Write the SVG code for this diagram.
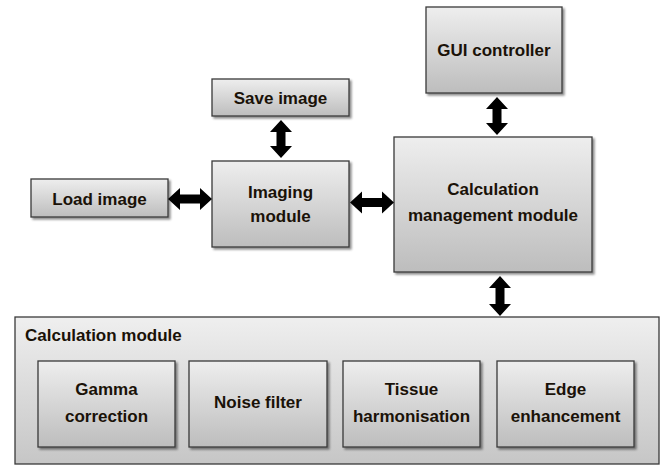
<svg xmlns="http://www.w3.org/2000/svg" width="661" height="466" viewBox="0 0 661 466">
<defs>
<linearGradient id="g" x1="0" y1="0" x2="0" y2="1">
<stop offset="0" stop-color="#eeeeee"/>
<stop offset="1" stop-color="#bdbdbd"/>
</linearGradient>
<linearGradient id="g2" x1="0" y1="0" x2="0" y2="1">
<stop offset="0" stop-color="#efefef"/>
<stop offset="1" stop-color="#c6c6c6"/>
</linearGradient>
<filter id="sh" x="-10%" y="-10%" width="130%" height="130%">
<feDropShadow dx="2" dy="2" stdDeviation="1.2" flood-color="#000" flood-opacity="0.45"/>
</filter>
</defs>
<style>
.box{fill:url(#g);stroke:#3a3a3a;stroke-width:1.3;filter:url(#sh)}
.outer{fill:url(#g2);stroke:#3a3a3a;stroke-width:1.3}
text{font-family:"Liberation Sans",Arial,sans-serif;font-weight:bold;font-size:17px;fill:#1a1208;text-anchor:middle}
.arr{fill:#000}
</style>
<rect width="661" height="466" fill="#fff"/>
<g id="calculation-module">
<rect class="outer" x="15" y="317" width="644" height="147"/>
<text x="25" y="341" style="text-anchor:start">Calculation module</text>
</g>
<g id="gamma-correction">
<rect class="box" x="38" y="361" width="137" height="86"/>
<text x="106.5" y="395">Gamma</text>
<text x="106.5" y="422">correction</text>
</g>
<g id="noise-filter">
<rect class="box" x="189" y="361" width="138" height="86"/>
<text x="258" y="408">Noise filter</text>
</g>
<g id="tissue-harmonisation">
<rect class="box" x="343" y="361" width="137" height="86"/>
<text x="411.5" y="395">Tissue</text>
<text x="411.5" y="422">harmonisation</text>
</g>
<g id="edge-enhancement">
<rect class="box" x="497" y="361" width="137" height="86"/>
<text x="565.5" y="395">Edge</text>
<text x="565.5" y="422">enhancement</text>
</g>
<g id="gui-controller">
<rect class="box" x="426" y="7" width="136" height="86"/>
<text x="494" y="56">GUI controller</text>
</g>
<g id="save-image">
<rect class="box" x="212" y="79" width="137" height="37"/>
<text x="280.5" y="104">Save image</text>
</g>
<g id="load-image">
<rect class="box" x="31" y="179" width="137" height="38"/>
<text x="99.5" y="205">Load image</text>
</g>
<g id="imaging-module">
<rect class="box" x="212" y="161" width="137" height="86"/>
<text x="280.5" y="198">Imaging</text>
<text x="280.5" y="222">module</text>
</g>
<g id="calculation-management-module">
<rect class="box" x="394" y="137" width="198" height="135"/>
<text x="493" y="195">Calculation</text>
<text x="493" y="221">management module</text>
</g>
<g id="connectors">
<path class="arr" d="M168,199 L180,188 L180,194.5 L200,194.5 L200,188 L212,199 L200,210 L200,203.5 L180,203.5 L180,210 Z"/>
<path class="arr" d="M350,202.5 L362,191.5 L362,198 L382,198 L382,191.5 L394,202.5 L382,213.5 L382,207 L362,207 L362,213.5 Z"/>
<path class="arr" d="M281,120 L292,132 L285.5,132 L285.5,146 L292,146 L281,158 L270,146 L276.5,146 L276.5,132 L270,132 Z"/>
<path class="arr" d="M497,97 L508,109 L501.5,109 L501.5,123 L508,123 L497,135 L486,123 L492.5,123 L492.5,109 L486,109 Z"/>
<path class="arr" d="M500,276 L511,288 L504.5,288 L504.5,304 L511,304 L500,316 L489,304 L495.5,304 L495.5,288 L489,288 Z"/>
</g>
</svg>
